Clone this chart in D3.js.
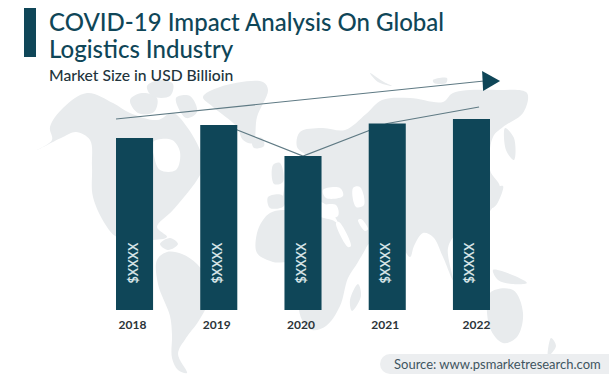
<!DOCTYPE html>
<html>
<head>
<meta charset="utf-8">
<script src="https://cdn.jsdelivr.net/npm/d3@7"></script>
<style>
html, body { margin: 0; padding: 0; background: #fff; }
svg { display: block; }
text { font-family: Lato, sans-serif; }
</style>
</head>
<body>
<script>
var years = ["2018", "2019", "2020", "2021", "2022"];
var sizes = [172, 185, 154, 186.5, 191];
var barLabels = ["$XXXX", "$XXXX", "$XXXX", "$XXXX", "$XXXX"];

// thin line that runs over the bars, [year index, value]
var connector = [[1.1, 184], [2, 154], [3, 186.5], [4.09, 203]];
// long growth arrow above them
var growthArrow = [[-0.22, 191], [4.15, 229]];

// rough outline of the continents behind the chart, in page pixels
var land = [
    // alaska, canada, usa, mexico
    [[37,150],[52,140],[50,127],[63,108],[87,93],[113,103],[130,113],[157,120],[173,113],[187,127],[200,150],[204,165],[197,180],[173,210],[157,227],[167,237],[150,240],[117,237],[107,227],[93,197],[92,167],[90,140],[76,132],[63,137]],
    // arctic islands over canada
    [[130,100],[142,93],[157,98],[154,112],[138,113]],
    [[147,86],[160,80],[173,84],[170,96],[152,96]],
    [[176,98],[190,96],[197,112],[186,118]],
    // greenland
    [[203,97],[220,87],[263,82],[268,90],[257,117],[253,143],[243,140],[237,127],[213,107]],
    // south america
    [[157,260],[167,252],[182,254],[197,264],[207,280],[208,302],[198,322],[186,338],[178,354],[187,373],[178,370],[172,358],[172,335],[170,316],[158,284]],
    // central america
    [[170,238],[178,244],[168,250],[160,244]],
    // uk, iceland
    [[273,165],[280,163],[283,182],[274,184]],
    [[252,140],[262,138],[264,146],[254,148]],
    // iberia
    [[268,197],[282,195],[284,206],[270,208]],
    // europe and asia
    [[284,190],[292,170],[308,158],[297,147],[300,132],[322,128],[345,130],[366,114],[382,100],[410,98],[443,102],[453,93],[497,90],[527,93],[523,113],[503,127],[493,137],[490,170],[500,187],[493,207],[478,222],[458,232],[448,248],[453,280],[443,257],[433,237],[423,233],[414,246],[410,257],[398,240],[380,226],[367,246],[352,252],[340,226],[325,204],[310,200],[296,206],[284,204]],
    // africa
    [[257,233],[263,220],[270,213],[283,210],[320,217],[337,223],[350,248],[367,243],[358,262],[348,278],[340,306],[326,326],[312,330],[302,320],[296,290],[290,264],[273,262],[257,253]],
    // madagascar
    [[358,284],[361,296],[352,311],[350,300]],
    // japan, sakhalin
    [[505,128],[514,138],[514,160],[506,150]],
    [[494,190],[503,186],[497,204],[492,208]],
    // indonesia
    [[493,270],[510,274],[527,283],[512,284],[498,280]],
    // australia
    [[490,293],[513,290],[523,313],[517,337],[503,343],[490,328]],
    // new zealand
    [[551,338],[556,346],[548,356]],
    // arctic islands over russia
    [[370,73],[384,82],[392,86],[378,82]],
    [[433,80],[447,78],[446,83],[434,83]]
];

// water cut back out of the land
var seas = [
    [[153,142],[172,140],[180,152],[176,170],[160,170],[154,156]], // hudson bay
    [[323,190],[340,188],[343,196],[326,198]], // black sea
    [[353,188],[360,187],[364,205],[356,207]], // caspian
    [[320,207],[336,205],[338,216],[322,217]], // mediterranean
    [[336,223],[339,222],[351,246],[348,247]], // red sea
    [[358,220],[361,219],[368,229],[365,231]] // persian gulf
];

var width = 609, height = 385;
var baseline = 310;

var svg = d3.select("body").append("svg")
    .attr("width", width)
    .attr("height", height);

var x = d3.scaleBand().domain(years).range([116, 490]).paddingInner(0.56).paddingOuter(0);
var y = d3.scaleLinear().domain([0, 200]).range([baseline, baseline - 200]);

// x for things placed between the categories
var xPos = d3.scaleLinear()
    .domain([0, years.length - 1])
    .range([x(years[0]) + x.bandwidth() / 2, x(years[years.length - 1]) + x.bandwidth() / 2]);

var lineGen = d3.line()
    .x(function(d) { return xPos(d[0]); })
    .y(function(d) { return y(d[1]); });

var blob = d3.line().curve(d3.curveCatmullRomClosed.alpha(0.5));

// map
svg.append("g").selectAll("path")
    .data(land)
    .enter().append("path")
    .attr("d", blob)
    .attr("fill", "#e8ebed");

svg.append("g").selectAll("path")
    .data(seas)
    .enter().append("path")
    .attr("d", blob)
    .attr("fill", "#fff");

// title block
svg.append("rect")
    .attr("x", 24).attr("y", 8)
    .attr("width", 12).attr("height", 49)
    .attr("fill", "#0f4658");

var title = svg.append("g")
    .attr("fill", "#0f4658")
    .attr("font-size", 24)
    .attr("font-weight", 500);
title.append("text").attr("x", 49).attr("y", 31).text("COVID-19 Impact Analysis On Global");
title.append("text").attr("x", 49).attr("y", 58).text("Logistics Industry");

svg.append("text")
    .attr("x", 49).attr("y", 81)
    .attr("font-size", 15.7)
    .attr("font-weight", 500)
    .attr("fill", "#22343c")
    .text("Market Size in USD Billioin");

// lines go under the bars
svg.append("path")
    .attr("d", lineGen(connector))
    .attr("fill", "none")
    .attr("stroke", "#5f7a84")
    .attr("stroke-width", 1.2);

svg.append("path")
    .attr("d", lineGen(growthArrow))
    .attr("fill", "none")
    .attr("stroke", "#5f7a84")
    .attr("stroke-width", 1.2);

var tip = growthArrow[1];
svg.append("path")
    .attr("transform", "translate(" + xPos(tip[0]) + "," + y(tip[1]) + ")")
    .attr("d", "M-2,-10L16,0L-1,10Z")
    .attr("fill", "#0f4658");

// bars
svg.selectAll(".bar")
    .data(sizes)
    .enter().append("rect")
    .attr("class", "bar")
    .attr("x", function(d, i) { return x(years[i]); })
    .attr("width", x.bandwidth())
    .attr("y", function(d) { return y(d); })
    .attr("height", function(d) { return baseline - y(d); })
    .attr("fill", "#0f4658");

svg.selectAll(".bar-label")
    .data(barLabels)
    .enter().append("text")
    .attr("class", "bar-label")
    .attr("transform", function(d, i) {
        return "translate(" + (x(years[i]) + x.bandwidth() / 2 + 3) + ",263) rotate(-90)";
    })
    .attr("text-anchor", "middle")
    .attr("font-size", 12.5)
    .attr("font-weight", 700)
    .attr("fill", "#d5e3e6")
    .text(function(d) { return d; });

// year axis
var axis = svg.append("g")
    .attr("transform", "translate(0," + baseline + ")")
    .call(d3.axisBottom(x).tickSize(0).tickPadding(10));
axis.select(".domain").remove();
axis.selectAll("text")
    .attr("font-family", "Lato, sans-serif")
    .attr("font-size", 12)
    .attr("font-weight", 700)
    .attr("fill", "#2c3438")
    // the year labels are not quite centred in the original
    .attr("dx", function(d, i) { return i == years.length - 1 ? 5 : -2; });

// source pill
svg.append("rect")
    .attr("x", 380).attr("y", 354)
    .attr("width", 240).attr("height", 20)
    .attr("rx", 10)
    .attr("fill", "#eceef0");

svg.append("text")
    .attr("x", 394).attr("y", 369)
    .attr("font-size", 13)
    .attr("fill", "#3f5560")
    .text("Source: www.psmarketresearch.com");
</script>
</body>
</html>
